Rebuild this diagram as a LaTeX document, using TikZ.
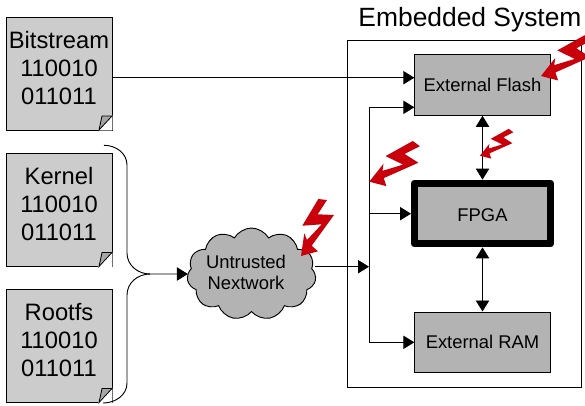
\documentclass[tikz,border=0pt]{standalone}
\usepackage{fontspec}
\setmainfont{Liberation Sans}
\usetikzlibrary{arrows.meta,shapes.symbols}

\definecolor{docgray}{HTML}{CCCCCC}
\definecolor{foldgray}{HTML}{A6A6A6}
\definecolor{chipgray}{HTML}{B3B3B3}
\definecolor{boltred}{HTML}{C9000B}

\tikzset{
  docfile/.style={draw,fill=docgray,line width=0.6pt,inner sep=0pt,outer sep=0pt,minimum width=79.5pt,minimum height=84.75pt},
  doctext/.style={align=center,inner sep=0pt,font=\fontsize{17.8}{21}\selectfont},
  chipbox/.style={draw,fill=chipgray,line width=0.7pt,inner sep=0pt,minimum width=102.2pt,minimum height=45.5pt,font=\fontsize{13.8}{16}\selectfont},
  bolt/.pic={\fill[boltred] (17.3,-57) -- (1.3,-30.3) -- (20.7,-31.7) -- (6,-16) -- (3.3,-22.7) -- (0,0)
    -- (17,-4.7) -- (10.7,-10.3) -- (33,-41) -- (16.7,-41.7) -- (26,-56) -- cycle;}
}

\begin{document}
\begin{tikzpicture}[x=0.75pt,y=-0.75pt,>/.tip={Triangle[length=8.25pt,width=10pt]},line width=0.7pt]
\clip (0,0) rectangle (585,405);

% files on the left
\draw (59,73.5) node (bitstream) [docfile] {};
\draw (59,210)  node (kernel)    [docfile] {};
\draw (59,346)  node (rootfs)    [docfile] {};
\foreach \n in {bitstream,kernel,rootfs} {
  \begin{scope}[shift={(\n.south east)},line width=0.6pt]
    \path[fill=white,draw=white] (-13,0) -- (0,0) -- (0,-14) -- cycle;
    \draw[fill=foldgray] (-13,0) -- (-10,-14) -- (0,-14) -- cycle;
  \end{scope}
}
\draw (59,68)  node (bitstreamtext) [doctext] {Bitstream\\110010\\011011};
\draw (59,204) node (kerneltext)    [doctext] {Kernel\\110010\\011011};
\draw (59,340) node (rootfstext)    [doctext] {Rootfs\\110010\\011011};

% embedded system
\draw (346.5,40) node (system) [draw,anchor=north west,inner sep=0pt,minimum width=175.6pt,minimum height=260.6pt] {};
\draw (470,20) node (systemtext) [inner sep=0pt,font=\fontsize{19.8}{24}\selectfont] {Embedded System};
\draw (482.5,85)  node (flash) [chipbox] {External Flash};
\draw (482.5,213.5) node (fpga) [chipbox,line width=5.5pt,line join=round,minimum height=45.3pt] {};
\draw (482.5,215) node (fpgatext) [inner sep=0pt,font=\fontsize{13.8}{16}\selectfont] {FPGA};
\draw (482.5,342.3) node (ram) [chipbox] {External RAM};

% network
\draw (251.5,274) node (cloud) [draw,shape=cloud,fill=chipgray,cloud puffs=11,cloud puff arc=120,aspect=1.4,
  inner sep=0pt,outer sep=0pt,minimum width=96.75pt,minimum height=69pt] {};
\draw (246,272.5) node (cloudtext) [align=center,inner sep=0pt,font=\fontsize{13.8}{16.1}\selectfont] {Untrusted\\Nextwork};

% connectors
\coordinate (flashtop) at (414.3,77.7);
\coordinate (flashlow) at (414.3,107.3);
\coordinate (fpgain)   at (411,213.7);
\coordinate (ramin)    at (414.3,342.3);
\coordinate (busflash) at (369,107.3);
\coordinate (busfpga)  at (369,213.7);
\coordinate (busin)    at (369,266.7);
\coordinate (busram)   at (369,342.3);
\coordinate (merge)    at (150,274);
\coordinate (kerneltop) at (104,145.3);
\coordinate (rootfsend) at (103,403);

\draw[->] (bitstream.east |- flashtop) -- (flashtop);
\draw[->] (busflash) -- (flashlow);
\draw[->] (busfpga) -- (fpgain);
\draw[->] (busram) -- (ramin);
\draw (busflash) -- (busram);
\draw[->] (cloud.east |- busin) -- (busin);
\draw[<->] (flash) -- (fpga);
\draw[<->] (fpga) -- (ram);
\draw[->] (merge) -- (cloud.west);
\draw (kerneltop) to[out=0,in=90] (127,165) -- (127,253) to[out=-90,in=180] (merge);
\draw (merge) to[out=180,in=90] (127,295) -- (127,383) to[out=-90,in=0] (rootfsend);

% attacks
\pic[rotate=-30] at (541,76) {bolt};
\pic[rotate=-30] at (369.3,181.7) {bolt};
\pic[rotate=-30,scale=0.66] at (480,155.7) {bolt};
\pic at (301,256) {bolt};

\end{tikzpicture}
\end{document}
